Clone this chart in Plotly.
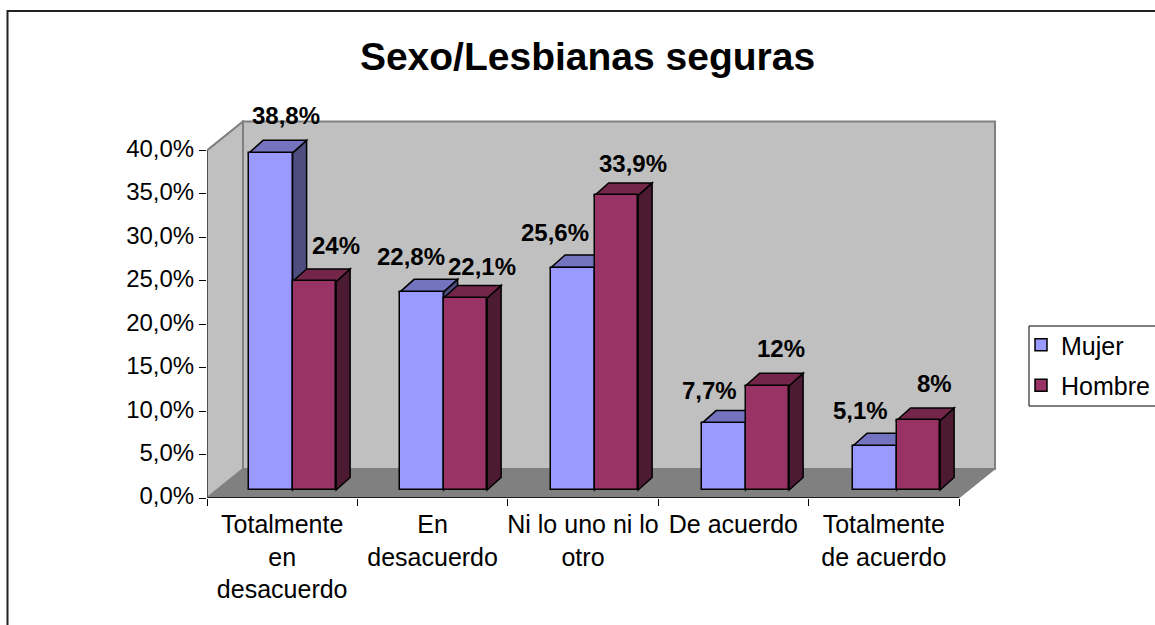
import plotly.graph_objects as go

CATEGORIES = ["Totalmente<br>en<br>desacuerdo", "En<br>desacuerdo", "Ni lo uno ni lo<br>otro",
              "De acuerdo", "Totalmente<br>de acuerdo"]
MUJER = [38.8, 22.8, 25.6, 7.7, 5.1]
HOMBRE = [24.0, 22.1, 33.9, 12.0, 8.0]
MUJER_LABELS = ["38,8%", "22,8%", "25,6%", "7,7%", "5,1%"]
HOMBRE_LABELS = ["24%", "22,1%", "33,9%", "12%", "8%"]
Y_TICKS = [0, 5, 10, 15, 20, 25, 30, 35, 40]
Y_TICK_LABELS = ["0,0%", "5,0%", "10,0%", "15,0%", "20,0%", "25,0%", "30,0%", "35,0%", "40,0%"]

# layout (pixels of the 1155x625 page)
W, H = 1155, 625
L, R, T, B = 207, 998, 120, 498
CAT_PX = 150.4
UNIT_PX = 8.69
WALL_DX = 36 / CAT_PX
WALL_DY = 29 / UNIT_PX
BAR_DX = 14 / CAT_PX
BAR_DY = 12.5 / UNIT_PX
BAR_W = 43.5 / CAT_PX
BAR_X0 = 0.28
BAR_PERIOD = 151 / CAT_PX
BASE = 8 / UNIT_PX
FONT = "Liberation Sans, Arial, sans-serif"
FS = 24

# label nudges in pixels relative to the bar's top centre
M_NUDGE = [(15, 37), (-11, 35), (-18, 35.5), (-14, 33), (-14, 35)]
H_NUDGE = [(22, 36), (17, 31), (17, 32), (14, 37), (16, 37)]


def poly(pts):
    return "M " + " L ".join(f"{x},{y}" for x, y in pts) + " Z"


shapes = []


def add_poly(pts, fill, line="#000000", lw=1.5):
    shapes.append(dict(type="path", xref="x", yref="y", path=poly(pts), fillcolor=fill,
                       line=dict(color=line, width=lw), layer="below"))


GREY = "#C0C0C0"
WALL = "#808080"
n = len(CATEGORIES)
add_poly([(WALL_DX, WALL_DY), (n + WALL_DX, WALL_DY), (n + WALL_DX, 40 + WALL_DY), (WALL_DX, 40 + WALL_DY)], GREY, WALL, 2)
add_poly([(0, 0), (WALL_DX, WALL_DY), (WALL_DX, 40 + WALL_DY), (0, 40)], GREY, WALL, 2)
add_poly([(0, 0), (n, 0), (n + WALL_DX, WALL_DY), (WALL_DX, WALL_DY)], WALL, WALL, 1)
shapes.append(dict(type="line", xref="x", yref="y", x0=0, x1=n, y0=0, y1=0, line=dict(color="#000000", width=1.5)))
shapes.append(dict(type="line", xref="x", yref="y", x0=0, x1=0, y0=0, y1=40, line=dict(color="#404040", width=1.5)))


def add_faces(x0s, values, top_c, side_c):
    for x0, v in zip(x0s, values):
        x1 = x0 + BAR_W
        y1 = v + BASE
        add_poly([(x1, BASE), (x1 + BAR_DX, BASE + BAR_DY), (x1 + BAR_DX, y1 + BAR_DY), (x1, y1)], side_c)
        add_poly([(x0, y1), (x1, y1), (x1 + BAR_DX, y1 + BAR_DY), (x0 + BAR_DX, y1 + BAR_DY)], top_c)


m_x0 = [i * BAR_PERIOD + BAR_X0 for i in range(n)]
h_x0 = [i * BAR_PERIOD + BAR_X0 + BAR_W for i in range(n)]
add_faces(m_x0, MUJER, "#7373BF", "#4D4D80")
add_faces(h_x0, HOMBRE, "#732649", "#4D1A33")

# outer chart frame, running off the right and bottom of the page
fx0 = (7.5 - L) / (R - L)
fy1 = (B - 11) / (B - T)
shapes.append(dict(type="path", xref="paper", yref="paper",
                   path=f"M {fx0},-1 L {fx0},{fy1} L 2,{fy1}",
                   line=dict(color="#222222", width=2), layer="below"))

fig = go.Figure()
for name, x0s, vals, color, group in [("Mujer", m_x0, MUJER, "#9999FF", "a"),
                                      ("Hombre", h_x0, HOMBRE, "#993366", "b")]:
    fig.add_trace(go.Bar(name=name, x=[x + BAR_W / 2 for x in x0s], y=vals, base=BASE, width=BAR_W,
                         marker=dict(color=color, line=dict(color="#000000", width=1.5)),
                         legendgroup=group))

annotations = []
for x0s, vals, labels, nudges in [(m_x0, MUJER, MUJER_LABELS, M_NUDGE), (h_x0, HOMBRE, HOMBRE_LABELS, H_NUDGE)]:
    for x0, v, lab, (dx, dy) in zip(x0s, vals, labels, nudges):
        annotations.append(dict(x=x0 + BAR_W / 2, y=v + BASE, xref="x", yref="y", text=f"<b>{lab}</b>",
                                showarrow=False, xshift=dx, yshift=dy, xanchor="center", yanchor="middle",
                                font=dict(family=FONT, size=FS, color="#000000")))

fig.update_layout(
    width=W, height=H, autosize=False,
    margin=dict(l=L, r=W - R, t=T, b=H - B, pad=0, autoexpand=False),
    paper_bgcolor="#FFFFFF", plot_bgcolor="rgba(0,0,0,0)",
    barmode="overlay", bargap=0,
    title=dict(text="<b>Sexo/Lesbianas seguras</b>", x=587.5 / W, xanchor="center", xref="container",
               y=1 - 56 / H, yanchor="middle", font=dict(family=FONT, size=39, color="#000000")),
    font=dict(family=FONT, size=FS, color="#000000"),
    xaxis=dict(range=[0, (R - L) / CAT_PX], tickvals=[i + 0.5 for i in range(n)], ticktext=CATEGORIES,
               ticks="", showgrid=False, zeroline=False, showline=False, tickangle=0,
               tickfont=dict(family=FONT, size=25, color="#000000"), ticklabelstandoff=9,
               minor=dict(tickvals=list(range(n + 1)), ticks="outside", ticklen=7, tickwidth=1, tickcolor="#000000",
                          showgrid=False)),
    yaxis=dict(range=[0, (B - T) / UNIT_PX], tickvals=Y_TICKS, ticktext=Y_TICK_LABELS,
               ticks="outside", ticklen=7, tickwidth=1, tickcolor="#000000", ticklabelshift=-2,
               showgrid=False, zeroline=False, showline=False),
    legend=dict(x=(1021 - L) / (R - L), xanchor="left", y=(B - 322) / (B - T), yanchor="top",
                bgcolor="rgba(0,0,0,0)", borderwidth=0, tracegroupgap=5, traceorder="grouped",
                font=dict(family=FONT, size=25, color="#000000")),
    shapes=shapes + [dict(type="rect", xref="paper", yref="paper",
                          x0=(1029 - L) / (R - L), x1=(1160 - L) / (R - L),
                          y0=(B - 406) / (B - T), y1=(B - 326) / (B - T),
                          line=dict(color="#000000", width=1), fillcolor="#FFFFFF", layer="below")],
    annotations=annotations,
    showlegend=True,
)

fig.write_html("out.html", config={"displayModeBar": False},
               post_script="document.body.style.margin='0';document.body.style.overflow='hidden';")
